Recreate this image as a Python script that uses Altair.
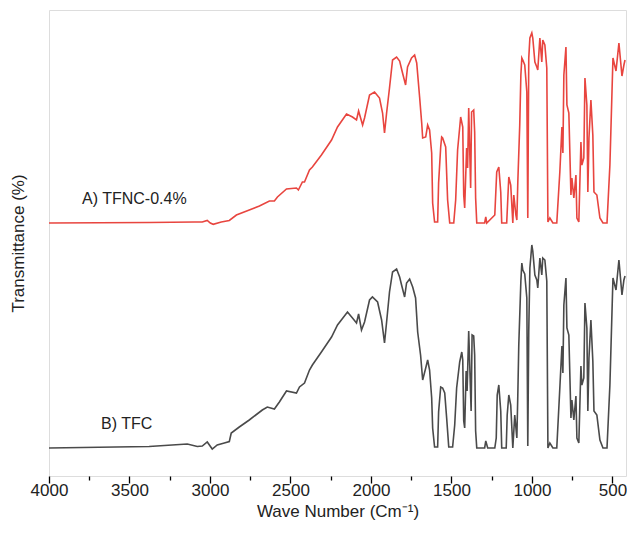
import altair as alt
import pandas as pd

# FTIR spectra: wavenumber (cm^-1) and transmittance height above each trace's baseline (arb. units)
red_wn = [4000, 3378, 3098, 3048, 3017, 2998, 2980, 2930, 2880, 2836, 2756, 2693, 2631, 2600, 2581,
          2525, 2463, 2451, 2426, 2413, 2382, 2364, 2308, 2245, 2208, 2152, 2115, 2090, 2077, 2052,
          2040, 2009, 1978, 1947, 1928, 1916, 1903, 1885, 1866, 1841, 1822, 1804, 1785, 1773, 1748,
          1729, 1716, 1698, 1685, 1679, 1660, 1648, 1636, 1623, 1617, 1605, 1586, 1580, 1567, 1561,
          1555, 1536, 1524, 1511, 1486, 1474, 1462, 1443, 1430, 1424, 1418, 1406, 1400, 1393, 1381,
          1375, 1362, 1356, 1350, 1343, 1294, 1287, 1281, 1231, 1219, 1206, 1194, 1188, 1157, 1150,
          1144, 1132, 1119, 1113, 1100, 1094, 1088, 1076, 1069, 1063, 1057, 1045, 1032, 1026, 1020,
          1013, 1001, 995, 982, 970, 964, 951, 939, 933, 920, 908, 901, 889, 870, 846,
          827, 814, 808, 802, 789, 783, 771, 758, 752, 740, 727, 721, 709, 696, 690,
          678, 671, 659, 653, 646, 634, 622, 615, 597, 578, 559, 534, 516, 497, 478,
          460, 441, 429, 422]
red_t = [0, 0.5, 1, 1, 2.5, 0, -1.3, 1, 2.5, 8, 13, 17, 22, 22, 26,
         34, 35, 33, 41, 41, 53, 56, 68, 83, 96, 109, 106, 103, 112, 98,
         105, 128, 131, 125, 110, 90, 110, 135, 163, 166, 162, 150, 138, 156, 165,
         168, 160, 126, 100, 85, 86, 98, 93, 70, 20, 1, 1, 40, 76, 86,
         85, 76, 23, 0, 0, 23, 73, 106, 96, 28, 15, 75, 55, 115, 35,
         111, 113, 91, 25, 0, 0, 6, 0, 8, 51, 56, 31, 0, 0, 25,
         46, 38, 0, 28, 8, 3, 41, 98, 148, 165, 163, 158, 131, 5, 165,
         185, 190, 185, 161, 156, 153, 185, 161, 183, 178, 155, 1, 5, 0, 0,
         51, 96, 70, 148, 176, 118, 110, 28, 45, 25, 48, 5, 1, 81, 58,
         65, 145, 118, 31, 85, 123, 88, 31, 28, 5, 0, 0, 58, 165, 152,
         180, 147, 158, 163]

blk_wn = [4000, 3378, 3141, 3079, 3048, 3017, 2986, 2955, 2911, 2880, 2868, 2818, 2756, 2675, 2644,
          2600, 2569, 2525, 2463, 2444, 2413, 2382, 2364, 2308, 2245, 2208, 2146, 2115, 2090, 2077,
          2059, 2040, 2009, 1991, 1959, 1934, 1916, 1903, 1885, 1866, 1841, 1822, 1810, 1791, 1779,
          1760, 1741, 1723, 1710, 1692, 1679, 1660, 1648, 1636, 1623, 1617, 1605, 1586, 1580, 1567,
          1555, 1542, 1530, 1517, 1493, 1480, 1468, 1449, 1436, 1430, 1424, 1418, 1409, 1403, 1393,
          1378, 1372, 1362, 1356, 1350, 1343, 1294, 1287, 1275, 1231, 1222, 1216, 1206, 1194, 1188,
          1160, 1154, 1144, 1132, 1119, 1107, 1094, 1088, 1082, 1069, 1063, 1057, 1045, 1032, 1026,
          1020, 1013, 1001, 995, 982, 970, 964, 951, 939, 933, 920, 908, 901, 889, 870,
          846, 827, 814, 808, 802, 789, 783, 771, 758, 752, 740, 727, 721, 709, 696,
          690, 678, 671, 659, 653, 646, 634, 622, 615, 597, 578, 559, 534, 516, 497,
          478, 460, 441, 429, 422]
blk_t = [0, 1.5, 4, 1.5, 2, 6, -1, 3, 5, 6.5, 15, 21, 28, 38, 41,
         39, 46, 57, 55, 61, 65, 78, 83, 96, 111, 123, 136, 130, 125, 134,
         118, 126, 148, 151, 146, 128, 105, 126, 156, 176, 179, 171, 163, 151, 165,
         169, 161, 150, 116, 93, 68, 80, 88, 78, 50, 20, 1, 1, 36, 61,
         60, 55, 30, 1, 1, 23, 60, 86, 96, 88, 27, 20, 77, 57, 117,
         37, 113, 112, 93, 17, 0, 0, 7, 0, 0, 10, 53, 63, 37, 0,
         0, 33, 53, 43, 0, 33, 10, 53, 103, 167, 185, 178, 174, 150, 2,
         117, 180, 203, 197, 173, 168, 160, 190, 173, 190, 188, 167, 0, 5, 0,
         0, 60, 102, 75, 143, 170, 120, 113, 30, 48, 28, 52, 10, 5, 82,
         63, 70, 145, 120, 37, 90, 128, 87, 37, 33, 8, 0, 0, 63, 170,
         158, 188, 153, 168, 172]

series_names = ["A) TFNC-0.4%", "B) TFC"]
series_offsets = [253, 28]          # vertical stacking offset of each trace
series_colors = ["#e8453f", "#4a4a4a"]
label_wn = [3795, 3677]
label_y = [277, 52]

x_major = [4000, 3500, 3000, 2500, 2000, 1500, 1000, 500]
x_minor = [3750, 3250, 2750, 2250, 1750, 1250, 750]

rows = []
for name, off, wns, ts in [(series_names[0], series_offsets[0], red_wn, red_t),
                           (series_names[1], series_offsets[1], blk_wn, blk_t)]:
    for i, (w, t) in enumerate(zip(wns, ts)):
        rows.append({"series": name, "wn": w, "T": t + off, "idx": i})
df = pd.DataFrame(rows)
lab = pd.DataFrame({"series": series_names, "wn": label_wn, "T": label_y})

FONT = "Liberation Sans"

xscale = alt.Scale(domain=[416, 4000], reverse=True, nice=False, zero=False)
yscale = alt.Scale(domain=[0, 466], nice=False, zero=False)

lines = alt.Chart(df).mark_line(strokeWidth=1.6, clip=True).encode(
    x=alt.X("wn:Q", scale=xscale,
            axis=alt.Axis(title="Wave Number (Cm⁻¹)", values=sorted(x_major + x_minor, reverse=True),
                          labelExpr="datum.value % 500 === 0 ? datum.label : ''",
                          format="d", domain=False, grid=False,
                          tickSize={"condition": {"test": "datum.value % 500 === 0", "value": 7}, "value": 4},
                          tickColor="black", tickWidth=1.3, labelFontSize=17, titleFontSize=17,
                          labelFont=FONT, titleFont=FONT, titleFontWeight="normal",
                          labelColor="#222", titleColor="#222", labelPadding=-1, titlePadding=5,
                          labelFlush=False, labelOverlap=False)),
    y=alt.Y("T:Q", scale=yscale,
            axis=alt.Axis(title="Transmittance (%)", labels=False, ticks=False, domain=False, grid=False,
                          titleFontSize=17, titleFont=FONT, titleFontWeight="normal",
                          titleColor="#222", titlePadding=22)),
    color=alt.Color("series:N", scale=alt.Scale(domain=series_names, range=series_colors), legend=None),
    detail="series:N",
    order="idx:Q",
)

labels = alt.Chart(lab).mark_text(align="left", baseline="middle", fontSize=16, font=FONT,
                                  color="#222").encode(
    x=alt.X("wn:Q", scale=xscale),
    y=alt.Y("T:Q", scale=yscale),
    text="series:N",
)

chart = (lines + labels).properties(
    width=577, height=466,
    autosize=alt.AutoSizeParams(type="none"),
    padding={"left": 49, "top": 10, "right": 1, "bottom": 68},
).configure_view(stroke="black", strokeWidth=1.6).configure(background="white")

chart.save("out.html", embed_options={"renderer": "svg", "actions": False})
